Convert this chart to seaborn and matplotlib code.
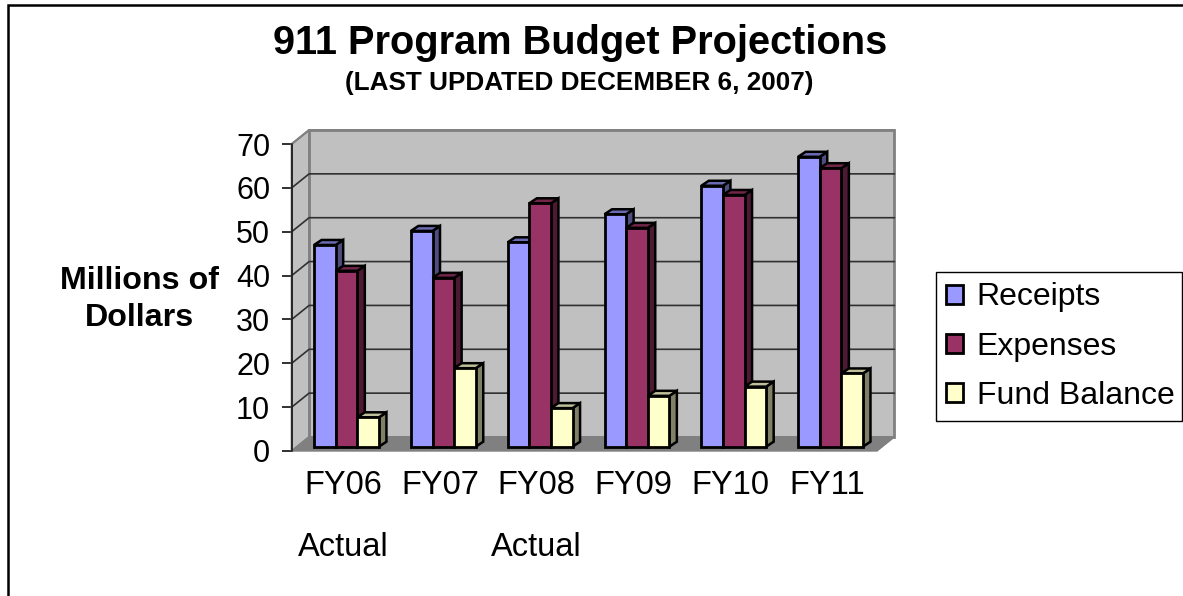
import pandas as pd
import matplotlib.pyplot as plt
import seaborn as sns
from matplotlib.lines import Line2D
from matplotlib.patches import Polygon
from matplotlib.transforms import Affine2D

years = ['FY06', 'FY07', 'FY08', 'FY09', 'FY10', 'FY11']
tick_labels = ['FY06\n\nActual', 'FY07', 'FY08\n\nActual', 'FY09', 'FY10', 'FY11']
receipts = [46.0, 49.2, 46.6, 53.0, 59.5, 66.1]
expenses = [40.1, 38.5, 55.5, 49.9, 57.4, 63.5]
fund_balance = [6.7, 17.9, 8.8, 11.6, 13.7, 16.7]

df = pd.DataFrame({'year': years, 'Receipts': receipts, 'Expenses': expenses,
                   'Fund Balance': fund_balance})
df = df.melt(id_vars='year', var_name='series', value_name='value')

W, H = 1183, 596
sns.set_style('white')
plt.rcParams['font.family'] = ['Liberation Sans', 'DejaVu Sans']
plt.rcParams['text.color'] = 'black'
plt.rcParams['xtick.color'] = 'black'
plt.rcParams['ytick.color'] = 'black'

fig = plt.figure(figsize=(W / 100, H / 100), dpi=100)
# axes sit on the front plane of the fake 3D box (pixel positions from the picture)
ax = fig.add_axes([291.7 / W, (H - 451) / H, 585.3 / W, 307 / H])

front = ['#9999FF', '#993366', '#FFFFCC']
side = ['#4D4D80', '#4D1933', '#808066']
top = ['#6B6BB3', '#732649', '#BFBF99']

sns.barplot(data=df, x='year', y='value', hue='series', palette=front, saturation=1,
            width=0.67, gap=0, edgecolor='black', linewidth=2, ax=ax, zorder=5)

xl, xr = -0.53, 5.516
ax.set_xlim(xl, xr)
ax.set_ylim(0, 70)
sns.despine(ax=ax, left=True, bottom=True, right=True, top=True)

# pixel to data conversion
px_x = (xr - xl) / 585.3
px_y = 70 / 307
ox, oy = 17.4 * px_x, 14 * px_y

# walls and floor
ax.add_patch(Polygon([(xl + ox, oy), (xr + ox, oy), (xr + ox, 70 + oy), (xl + ox, 70 + oy)],
                     fc='#C0C0C0', ec='#808080', lw=2, clip_on=False, zorder=1))
ax.add_patch(Polygon([(xl, 0), (xl + ox, oy), (xl + ox, 70 + oy), (xl, 70)],
                     fc='#C0C0C0', ec='#808080', lw=1.5, clip_on=False, zorder=1))
ax.add_patch(Polygon([(xl, 0), (xr, 0), (xr + ox, oy), (xl + ox, oy)],
                     fc='#808080', ec='#808080', lw=1, clip_on=False, zorder=1.5))

# gridlines run along the side wall then the back wall
yticks = [0, 10, 20, 30, 40, 50, 60, 70]
for t in yticks[1:]:
    c = '#808080' if t == 70 else '#303030'
    ax.plot([xl, xl + ox, xr + ox], [t, t + oy, t + oy], color=c, lw=1.2,
            clip_on=False, zorder=2)
ax.plot([xl, xl], [0, 70], color='#202020', lw=1.3, clip_on=False, zorder=2)

# shift bars back from the front plane, add side and top faces
sx, sy = 3.5, 4.3
ddx, ddy = 7.5 * px_x, 5 * px_y
shift = ax.transData + Affine2D().translate(sx, sy)
for i, cont in enumerate(ax.containers):
    for bar in cont:
        x0, w, h = bar.get_x(), bar.get_width(), bar.get_height()
        x1 = x0 + w
        z = 5 + x0
        bar.set_transform(shift)
        bar.set_zorder(z + 0.02)
        bar.set_clip_on(False)
        bar.set_joinstyle('miter')
        ax.add_patch(Polygon([(x1, 0), (x1 + ddx, ddy), (x1 + ddx, h + ddy), (x1, h)],
                             fc=side[i], ec='black', lw=1.8, transform=shift,
                             clip_on=False, zorder=z))
        ax.add_patch(Polygon([(x0, h), (x0 + ddx, h + ddy), (x1 + ddx, h + ddy), (x1, h)],
                             fc=top[i], ec='black', lw=1.8, transform=shift,
                             clip_on=False, zorder=z))

ax.set_xlabel('')
ax.set_ylabel('')
ax.set_yticks(yticks)
ax.set_xticks(range(6))
ax.set_xticklabels(tick_labels, fontsize=23.5, linespacing=1.0, color='black')
ax.tick_params(axis='y', labelsize=22, left=True, length=7, width=1.3, pad=8.5, color='#202020')
ax.tick_params(axis='x', bottom=False, pad=10)

handles, labels = ax.get_legend_handles_labels()
leg = ax.legend(handles, labels, loc='lower left', mode='expand',
                bbox_to_anchor=(935.5 / W, (H - 421) / H, 246 / W, 146 / H),
                bbox_transform=fig.transFigure, fontsize=23, fancybox=False,
                framealpha=1, edgecolor='black', handlelength=0.55, handleheight=0.55,
                handletextpad=0.42, labelspacing=0.6, borderpad=0.32, borderaxespad=0)
leg.get_frame().set_linewidth(1)
leg.set_zorder(20)

fig.text(580 / W, 1 - 43 / H, '911 Program Budget Projections', fontsize=28.6,
         fontweight='bold', ha='center', va='center')
fig.text(579 / W, 1 - 83 / H, '(LAST UPDATED DECEMBER 6, 2007)', fontsize=18.8,
         fontweight='bold', ha='center', va='center')
fig.text(139.5 / W, 1 - 281 / H, 'Millions of', fontsize=23.2, fontweight='bold',
         ha='center', va='center')
fig.text(139.5 / W, 1 - 318 / H, 'Dollars', fontsize=23.2, fontweight='bold',
         ha='center', va='center')

# outer border of the pasted slide: only top and left edges are visible
fig.add_artist(Line2D([8 / W, 8 / W, 1], [0, 1 - 5 / H, 1 - 5 / H], color='black', lw=1.8,
                      solid_joinstyle='miter'))

plt.savefig('out.png', dpi=100)
